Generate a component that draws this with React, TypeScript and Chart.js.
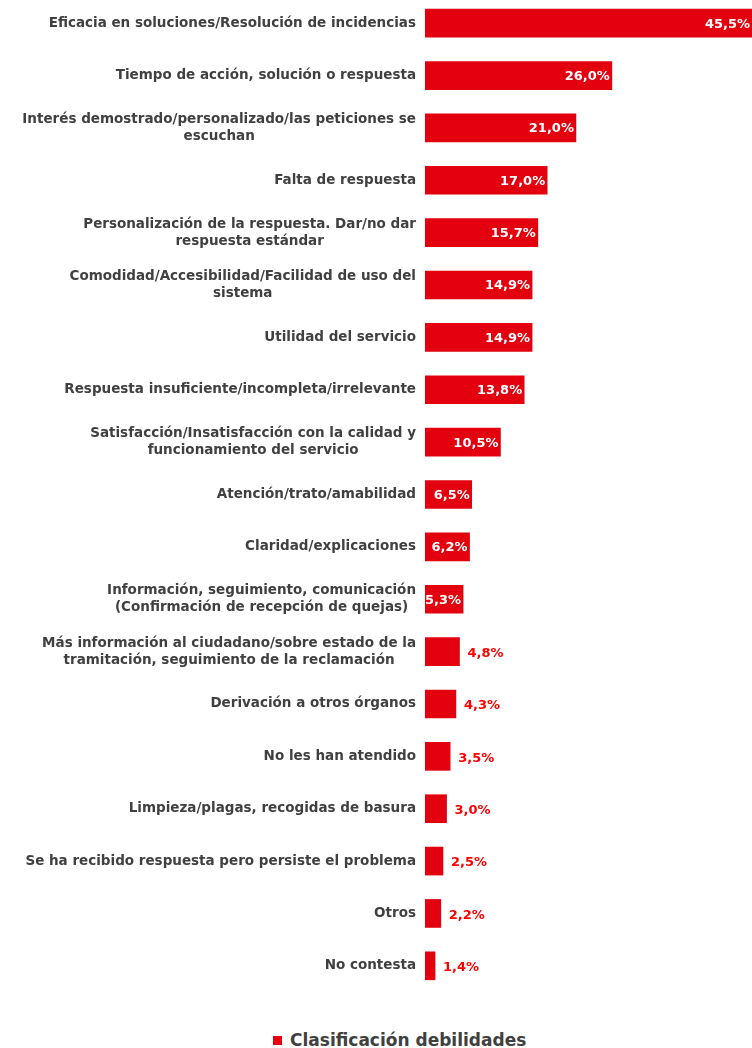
import React, { useEffect, useRef } from "react";
import { Chart, registerables } from "chart.js";

Chart.register(...registerables);

const categories: (string | string[])[] = [
  "Eficacia en soluciones/Resolución de incidencias",
  "Tiempo de acción, solución o respuesta",
  ["Interés demostrado/personalizado/las peticiones se", "escuchan"],
  "Falta de respuesta",
  ["Personalización de la respuesta. Dar/no dar", "respuesta estándar"],
  ["Comodidad/Accesibilidad/Facilidad de uso del", "sistema"],
  "Utilidad del servicio",
  "Respuesta insuficiente/incompleta/irrelevante",
  ["Satisfacción/Insatisfacción con la calidad y", "funcionamiento del servicio"],
  "Atención/trato/amabilidad",
  "Claridad/explicaciones",
  ["Información, seguimiento, comunicación", "(Confirmación de recepción de quejas)"],
  ["Más información al ciudadano/sobre estado de la", "tramitación, seguimiento de la reclamación"],
  "Derivación a otros órganos",
  "No les han atendido",
  "Limpieza/plagas, recogidas de basura",
  "Se ha recibido respuesta pero persiste el problema",
  "Otros",
  "No contesta",
];

const values: number[] = [
  45.5, 26.0, 21.0, 17.0, 15.7, 14.9, 14.9, 13.8, 10.5, 6.5, 6.2, 5.3, 4.8, 4.3,
  3.5, 3.0, 2.5, 2.2, 1.4,
];

const seriesName = "Clasificación debilidades";
const BAR_COLOR = "#e3000f";
const FONT = "'DejaVu Sans', Verdana, sans-serif";

const labelPlugin = {
  id: "barLabels",
  afterDatasetsDraw(chart: any) {
    const ctx = chart.ctx;
    const meta = chart.getDatasetMeta(0);
    ctx.save();
    ctx.font = `bold 13px ${FONT}`;
    ctx.textBaseline = "middle";
    meta.data.forEach((bar: any, i: number) => {
      const v = values[i];
      const txt = v.toFixed(1).replace(".", ",") + "%";
      if (v >= 5) {
        ctx.fillStyle = "#ffffff";
        ctx.textAlign = "right";
        ctx.fillText(txt, bar.x - 2, bar.y + 1);
      } else {
        ctx.fillStyle = "#ff0000";
        ctx.textAlign = "left";
        ctx.fillText(txt, bar.x + 8, bar.y + 2);
      }
    });
    ctx.restore();
  },
};

// Category labels: block right-aligned next to the axis, lines centred within the block
const categoryLabelPlugin = {
  id: "categoryLabels",
  afterDraw(chart: any) {
    const ctx = chart.ctx;
    const yScale = chart.scales.y;
    const right = chart.chartArea.left - 9;
    const lineH = 17;
    ctx.save();
    ctx.font = `bold 13.5px ${FONT}`;
    ctx.fillStyle = "#404040";
    ctx.textBaseline = "middle";
    ctx.textAlign = "center";
    categories.forEach((lab, i) => {
      const lines = Array.isArray(lab) ? lab : [lab];
      const maxW = Math.max(...lines.map((l) => ctx.measureText(l).width));
      const cx = right - maxW / 2;
      const yc = yScale.getPixelForValue(i);
      const y0 = yc - ((lines.length - 1) * lineH) / 2;
      lines.forEach((l, k) => ctx.fillText(l, cx, y0 + k * lineH));
    });
    ctx.restore();
  },
};

export default function App() {
  const ref = useRef<HTMLCanvasElement | null>(null);

  useEffect(() => {
    document.body.style.margin = "0";
    if (!ref.current) return;
    const chart = new Chart(ref.current, {
      type: "bar",
      data: {
        labels: categories,
        datasets: [
          {
            label: seriesName,
            data: values,
            backgroundColor: BAR_COLOR,
            barThickness: 28,
          },
        ],
      },
      options: {
        indexAxis: "y",
        animation: false,
        responsive: false,
        maintainAspectRatio: false,
        layout: { padding: 0 },
        plugins: {
          legend: { display: false },
          tooltip: { enabled: false },
        },
        scales: {
          x: { display: false, min: 0, max: 45.5 },
          y: {
            grid: { display: false, drawTicks: false },
            border: { display: false },
            afterFit: (scale: any) => {
              scale.width = 425;
              scale.paddingTop = 0;
              scale.paddingBottom = 0;
            },
            ticks: { display: false },
          },
        },
      },
      plugins: [labelPlugin, categoryLabelPlugin],
    });
    return () => chart.destroy();
  }, []);

  return (
    <div style={{ position: "relative", width: 752, height: 1048, overflow: "hidden" }}>
      <canvas
        ref={ref}
        width={752}
        height={995}
        style={{ display: "block", marginTop: -3 }}
      />
      <div
        style={{
          position: "absolute",
          left: 273,
          top: 1030,
          display: "flex",
          alignItems: "center",
          fontFamily: FONT,
          fontWeight: "bold",
          fontSize: 17,
          color: "#404040",
        }}
      >
        <span
          style={{
            display: "inline-block",
            width: 9,
            height: 9,
            background: BAR_COLOR,
            marginRight: 8,
          }}
        />
        {seriesName}
      </div>
    </div>
  );
}
